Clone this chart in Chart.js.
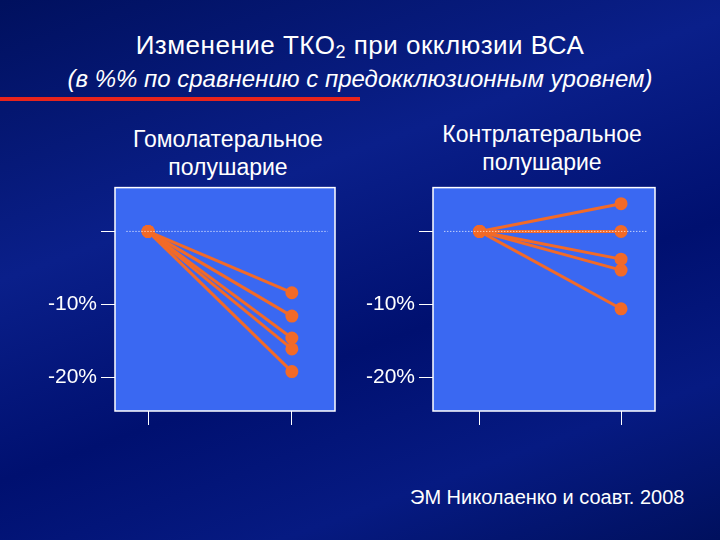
<!DOCTYPE html>
<html><head><meta charset="utf-8">
<script src="https://cdn.jsdelivr.net/npm/chart.js@4"></script>
<style>
body{margin:0;width:720px;height:540px;overflow:hidden;font-family:Arial,"Liberation Sans",sans-serif;color:#fff;
background:linear-gradient(160deg,#00105e 0%,#0a1f8a 35%,#001070 60%,#061a82 80%,#00105e 100%);position:relative}
.t{position:absolute;white-space:nowrap;text-align:center}
canvas{position:absolute}
</style></head><body>
<div class="t" style="left:0;width:720px;top:30px;font-size:26px;letter-spacing:0.5px">Изменение ТКО<span style="font-size:18px;vertical-align:-4px">2</span> при окклюзии ВСА</div>
<div class="t" style="left:0;width:720px;top:65px;font-size:24px;font-style:italic">(в %% по сравнению с предокклюзионным уровнем)</div>
<div style="position:absolute;left:0;top:97px;width:360px;height:4px;background:#e8241c"></div>
<div class="t" style="left:98px;width:260px;top:125px;font-size:23px;line-height:28px">Гомолатеральное<br>полушарие</div>
<div class="t" style="left:412px;width:260px;top:120px;font-size:23px;line-height:28px">Контрлатеральное<br>полушарие</div>
<div class="t" style="left:410px;top:486px;font-size:20px">ЭМ Николаенко и соавт. 2008</div>
<canvas id="c1" width="345" height="260" style="left:0;top:171px"></canvas>
<canvas id="c2" width="320" height="260" style="left:345px;top:171px"></canvas>
<script>
const xPositions=[0,1];
const homoEnd=[-8.4,-11.6,-14.6,-16.1,-19.2];
const contraEnd=[3.8,0,-3.8,-5.3,-10.6];
const yTicks=[0,-10,-20];
const boxPlugin={id:'box',beforeDatasetsDraw(ch){const a=ch.chartArea,c=ch.ctx;c.save();c.fillStyle='#3a68f2';c.fillRect(a.left,a.top,a.width,a.height);c.strokeStyle='#fff';c.lineWidth=1.5;c.strokeRect(a.left,a.top,a.width,a.height);c.restore();}};
function make(id,ends,yw,xmin,xmax){
  const ds=[{data:[{x:xmin+0.08,y:0},{x:xmax-0.05,y:0}],borderColor:'#fff',borderWidth:1,borderDash:[1,2],pointRadius:0}];
  ends.forEach(v=>ds.push({data:[{x:xPositions[0],y:0},{x:xPositions[1],y:v}],borderColor:'#f26a28',backgroundColor:'#f26a28',borderWidth:3,pointRadius:5}));
  new Chart(document.getElementById(id),{type:'line',data:{datasets:ds},plugins:[boxPlugin],
  options:{responsive:false,animation:false,layout:{padding:{top:6,right:10,left:0,bottom:0}},
   plugins:{legend:{display:false},tooltip:{enabled:false}},
   scales:{x:{type:'linear',min:xmin,max:xmax,afterBuildTicks:s=>{s.ticks=xPositions.map(v=>({value:v}))},
      afterFit:s=>{s.height=20},ticks:{callback:()=>'' ,padding:0},grid:{drawOnChartArea:false,color:'#fff',tickLength:14},border:{display:false}},
    y:{min:-24.6,max:6,afterBuildTicks:s=>{s.ticks=yTicks.map(v=>({value:v}))},afterFit:s=>{s.width=yw},
      ticks:{color:'#fff',font:{size:21,family:'Arial'},padding:4,callback:v=>v===0?'':v+'%'},
      grid:{drawOnChartArea:false,color:'#fff',tickLength:14},border:{display:false}}}}});
}
make('c1',homoEnd,115,-0.23,1.3);
make('c2',contraEnd,88,-0.33,1.24);
</script></body></html>
